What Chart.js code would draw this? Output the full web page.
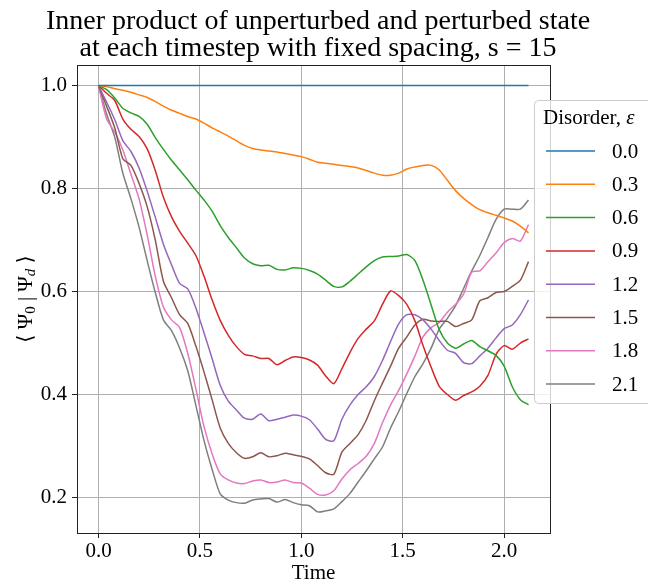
<!DOCTYPE html>
<html>
<head>
<meta charset="utf-8">
<script src="https://cdn.jsdelivr.net/npm/chart.js@4.4.0/dist/chart.umd.min.js"></script>
<style>
  body { margin: 0; background: #fff; }
  canvas { display: block; }
</style>
</head>
<body>
<canvas id="myChart" width="648" height="586"></canvas>
<script>
// time steps
var time = [0.00, 0.04, 0.08, 0.12, 0.16, 0.20, 0.24, 0.28, 0.32, 0.36,
            0.40, 0.44, 0.48, 0.52, 0.56, 0.60, 0.64, 0.68, 0.72, 0.76,
            0.80, 0.84, 0.88, 0.92, 0.96, 1.00, 1.04, 1.08, 1.12, 1.16,
            1.20, 1.24, 1.28, 1.32, 1.36, 1.40, 1.44, 1.48, 1.52, 1.56,
            1.60, 1.64, 1.68, 1.72, 1.76, 1.80, 1.84, 1.88, 1.92, 1.96,
            2.00, 2.04, 2.08, 2.12];

// disorder strengths
var disorder = ['0.0', '0.3', '0.6', '0.9', '1.2', '1.5', '1.8', '2.1'];

// <psi_0 | psi_d> for each disorder strength
var eps00 = [1, 1, 1, 1, 1, 1, 1, 1, 1, 1,
             1, 1, 1, 1, 1, 1, 1, 1, 1, 1,
             1, 1, 1, 1, 1, 1, 1, 1, 1, 1,
             1, 1, 1, 1, 1, 1, 1, 1, 1, 1,
             1, 1, 1, 1, 1, 1, 1, 1, 1, 1,
             1, 1, 1, 1];
var eps03 = [1.000, 0.998, 0.994, 0.991, 0.987, 0.982, 0.977, 0.969, 0.960, 0.952,
             0.946, 0.940, 0.935, 0.927, 0.918, 0.910, 0.902, 0.893, 0.884, 0.878,
             0.875, 0.873, 0.871, 0.868, 0.865, 0.862, 0.857, 0.851, 0.849, 0.847,
             0.845, 0.843, 0.840, 0.835, 0.830, 0.826, 0.826, 0.830, 0.838, 0.842,
             0.845, 0.845, 0.836, 0.816, 0.796, 0.781, 0.769, 0.759, 0.753, 0.748,
             0.743, 0.737, 0.727, 0.714];
var eps06 = [1.000, 0.992, 0.976, 0.956, 0.947, 0.940, 0.925, 0.899, 0.876, 0.855,
             0.836, 0.817, 0.797, 0.778, 0.756, 0.728, 0.705, 0.685, 0.665, 0.654,
             0.650, 0.651, 0.643, 0.642, 0.646, 0.645, 0.641, 0.634, 0.622, 0.610,
             0.609, 0.620, 0.634, 0.648, 0.660, 0.667, 0.668, 0.669, 0.672, 0.660,
             0.622, 0.574, 0.526, 0.500, 0.490, 0.498, 0.505, 0.493, 0.485, 0.476,
             0.455, 0.415, 0.390, 0.380];
var eps09 = [1.000, 0.985, 0.971, 0.935, 0.915, 0.901, 0.877, 0.835, 0.783, 0.745,
             0.717, 0.694, 0.670, 0.630, 0.584, 0.544, 0.515, 0.493, 0.478, 0.475,
             0.470, 0.470, 0.458, 0.466, 0.473, 0.472, 0.467, 0.457, 0.436, 0.421,
             0.450, 0.482, 0.509, 0.527, 0.543, 0.575, 0.601, 0.592, 0.575, 0.543,
             0.495, 0.453, 0.416, 0.400, 0.389, 0.398, 0.405, 0.416, 0.437, 0.478,
             0.495, 0.488, 0.500, 0.508];
var eps12 = [1.000, 0.968, 0.934, 0.893, 0.872, 0.840, 0.795, 0.744, 0.692, 0.652,
             0.616, 0.605, 0.568, 0.520, 0.470, 0.418, 0.387, 0.370, 0.354, 0.352,
             0.362, 0.349, 0.352, 0.356, 0.360, 0.358, 0.351, 0.333, 0.313, 0.310,
             0.352, 0.380, 0.400, 0.415, 0.435, 0.466, 0.503, 0.537, 0.555, 0.555,
             0.545, 0.527, 0.505, 0.486, 0.480, 0.462, 0.460, 0.475, 0.490, 0.510,
             0.528, 0.535, 0.555, 0.584];
var eps15 = [1.000, 0.960, 0.918, 0.858, 0.845, 0.810, 0.765, 0.700, 0.620, 0.588,
             0.555, 0.538, 0.494, 0.444, 0.390, 0.335, 0.305, 0.287, 0.276, 0.279,
             0.287, 0.279, 0.281, 0.286, 0.283, 0.280, 0.275, 0.262, 0.248, 0.245,
             0.288, 0.305, 0.322, 0.350, 0.388, 0.422, 0.455, 0.490, 0.512, 0.535,
             0.546, 0.543, 0.542, 0.542, 0.532, 0.538, 0.545, 0.582, 0.588, 0.598,
             0.600, 0.610, 0.622, 0.658];
var eps18 = [1.000, 0.935, 0.910, 0.875, 0.828, 0.780, 0.710, 0.630, 0.570, 0.545,
             0.530, 0.480, 0.411, 0.338, 0.285, 0.246, 0.234, 0.228, 0.227, 0.232,
             0.234, 0.229, 0.230, 0.234, 0.229, 0.228, 0.218, 0.206, 0.205, 0.213,
             0.236, 0.254, 0.266, 0.280, 0.305, 0.345, 0.380, 0.408, 0.440, 0.475,
             0.512, 0.530, 0.540, 0.560, 0.575, 0.595, 0.638, 0.640, 0.658, 0.675,
             0.695, 0.703, 0.698, 0.730];
var eps21 = [1.000, 0.945, 0.900, 0.830, 0.780, 0.725, 0.660, 0.598, 0.545, 0.524,
             0.490, 0.446, 0.379, 0.311, 0.255, 0.207, 0.195, 0.190, 0.189, 0.195,
             0.197, 0.198, 0.191, 0.196, 0.190, 0.186, 0.184, 0.172, 0.174, 0.178,
             0.192, 0.208, 0.230, 0.252, 0.275, 0.298, 0.335, 0.367, 0.402, 0.435,
             0.460, 0.490, 0.527, 0.548, 0.572, 0.606, 0.640, 0.670, 0.705, 0.740,
             0.760, 0.760, 0.760, 0.778];

var series = [eps00, eps03, eps06, eps09, eps12, eps15, eps18, eps21];
var colors = ['#1f77b4', '#ff7f0e', '#2ca02c', '#d62728', '#9467bd', '#8c564b', '#e377c2', '#7f7f7f'];

var xTicks = [0, 0.5, 1.0, 1.5, 2.0];
var yTicks = [0.2, 0.4, 0.6, 0.8, 1.0];

var serif = '"Liberation Serif", "Times New Roman", "DejaVu Serif", serif';

var datasets = series.map(function(vals, i) {
  return {
    label: disorder[i],
    data: vals.map(function(v, j) { return { x: time[j], y: v }; }),
    borderColor: colors[i],
    borderWidth: 1.5,
    pointRadius: 0,
    fill: false,
    tension: 0.25
  };
});

// draws a run of text pieces (for subscripts / italics) starting at x
function drawPieces(ctx, pieces, x, y) {
  pieces.forEach(function(p) {
    ctx.font = p.font;
    ctx.fillText(p.text, x, y + (p.dy || 0));
    x += ctx.measureText(p.text).width;
  });
}
function piecesWidth(ctx, pieces) {
  var w = 0;
  pieces.forEach(function(p) { ctx.font = p.font; w += ctx.measureText(p.text).width; });
  return w;
}

var extras = {
  id: 'extras',
  afterDraw: function(chart) {
    var ctx = chart.ctx, a = chart.chartArea;
    ctx.save();

    // axes frame
    ctx.strokeStyle = '#222';
    ctx.lineWidth = 1;
    ctx.strokeRect(a.left + 0.5, a.top + 0.5, a.right - a.left, a.bottom - a.top);

    // title
    ctx.fillStyle = '#000';
    ctx.textAlign = 'center';
    ctx.textBaseline = 'alphabetic';
    ctx.font = '28px ' + serif;
    ctx.fillText('Inner product of unperturbed and perturbed state', 318, 29);
    ctx.fillText('at each timestep with fixed spacing, s = 15', 318, 56);

    // y axis label
    var ylab = [
      { text: '\u27E8 ', font: '21px ' + serif },
      { text: '\u03A8', font: '21px ' + serif },
      { text: '0', font: '15px ' + serif, dy: 3 },
      { text: ' | ', font: '21px ' + serif },
      { text: '\u03A8', font: '21px ' + serif },
      { text: 'd', font: 'italic 15px ' + serif, dy: 3 },
      { text: ' \u27E9', font: '21px ' + serif }
    ];
    ctx.save();
    ctx.translate(25, (a.top + a.bottom) / 2);
    ctx.rotate(-Math.PI / 2);
    ctx.textAlign = 'left';
    drawPieces(ctx, ylab, -piecesWidth(ctx, ylab) / 2, 7);
    ctx.restore();

    // legend
    var lx = 534, ly = 100, lw = 160, lh = 303;
    ctx.beginPath();
    ctx.roundRect(lx + 0.5, ly + 0.5, lw, lh, 4);
    ctx.fillStyle = 'rgba(255,255,255,0.8)';
    ctx.fill();
    ctx.strokeStyle = '#cccccc';
    ctx.lineWidth = 1;
    ctx.stroke();

    ctx.fillStyle = '#000';
    ctx.textAlign = 'left';
    ctx.textBaseline = 'middle';
    drawPieces(ctx, [
      { text: 'Disorder, ', font: '21px ' + serif },
      { text: '\u03B5', font: 'italic 21px ' + serif }
    ], 543, 118);

    chart.data.datasets.forEach(function(ds, i) {
      var yy = 151 + i * 33.3;
      ctx.strokeStyle = ds.borderColor;
      ctx.lineWidth = 1.5;
      ctx.beginPath();
      ctx.moveTo(546, yy);
      ctx.lineTo(595, yy);
      ctx.stroke();
      ctx.fillStyle = '#000';
      ctx.font = '21px ' + serif;
      ctx.fillText(ds.label, 612, yy + 1);
    });

    ctx.restore();
  }
};

var ctx = document.getElementById('myChart').getContext('2d');
var myChart = new Chart(ctx, {
  type: 'line',
  data: { datasets: datasets },
  plugins: [extras],
  options: {
    responsive: false,
    animation: false,
    devicePixelRatio: 1,
    layout: { padding: { top: 65, right: 98, left: 0, bottom: 0 } },
    plugins: {
      legend: { display: false },
      title: { display: false },
      tooltip: { enabled: false }
    },
    scales: {
      x: {
        type: 'linear',
        min: -0.106,
        max: 2.226,
        afterBuildTicks: function(scale) {
          scale.ticks = xTicks.map(function(v) { return { value: v }; });
        },
        afterFit: function(scale) { scale.height = 53; },
        grid: { color: '#b0b0b0', lineWidth: 1, tickColor: '#222', tickLength: 5 },
        border: { display: false },
        ticks: {
          color: '#000',
          font: { family: serif, size: 21 },
          padding: 1,
          maxRotation: 0,
          callback: function(v) { return v.toFixed(1); }
        },
        title: {
          display: true,
          text: 'Time',
          color: '#000',
          font: { family: serif, size: 21 },
          padding: { top: 0, bottom: 0 }
        }
      },
      y: {
        type: 'linear',
        min: 0.131,
        max: 1.040,
        afterBuildTicks: function(scale) {
          scale.ticks = yTicks.map(function(v) { return { value: v }; });
        },
        afterFit: function(scale) { scale.width = 77; },
        grid: { color: '#b0b0b0', lineWidth: 1, tickColor: '#222', tickLength: 5 },
        border: { display: false },
        ticks: {
          color: '#000',
          font: { family: serif, size: 21 },
          padding: 5,
          callback: function(v) { return v.toFixed(1); }
        }
      }
    }
  }
});
</script>
</body>
</html>
